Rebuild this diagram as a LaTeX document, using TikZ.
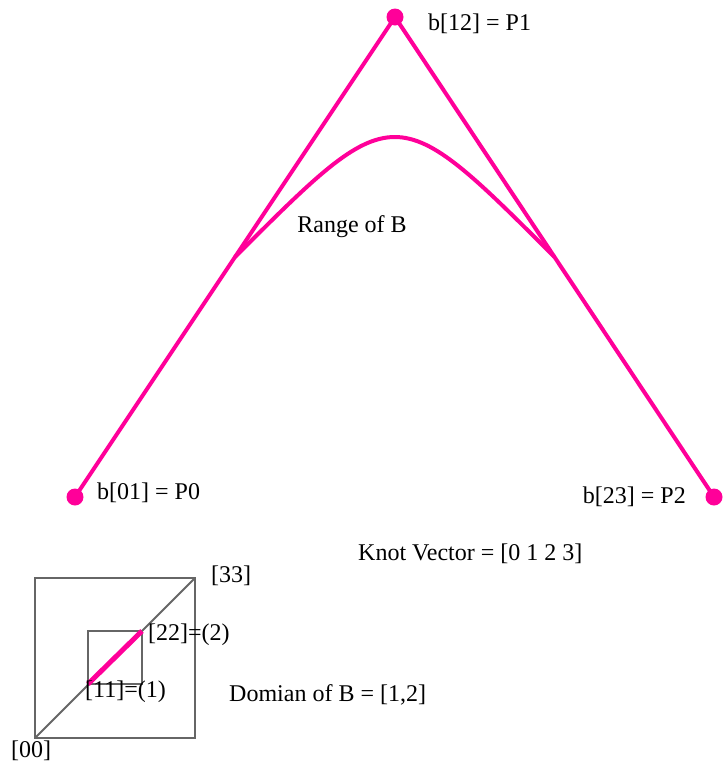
\documentclass[tikz,border=0pt]{standalone}
\usepackage{fontspec}
\setmainfont{Liberation Serif}
\begin{document}
\begin{tikzpicture}[x=1pt,y=-1pt]
\definecolor{pinkc}{HTML}{FF0099}
\definecolor{grayc}{HTML}{666666}
\tikzset{
  pk/.style={draw=pinkc, line width=4pt},
  gr/.style={draw=grayc, line width=2.5pt},
  dot/.style={circle, fill=pinkc, inner sep=0pt, minimum size=17pt},
  lab/.style={font=\fontsize{24}{24}\selectfont, inner sep=0pt}}
\useasboundingbox (0,0) rectangle (726,764);
% control points
\node[dot] (p0) at (75,497) {};
\node[dot] (p1) at (395,17) {};
\node[dot] (p2) at (714,497) {};
\coordinate (m01) at (235,257);
\coordinate (m12) at (554.5,257);
\draw[pk] (p0.center) -- (p1.center) -- (p2.center);
\draw[pk] (m01) .. controls (395,97) and (394.5,97) .. (m12);
% labels
\node[lab, anchor=west] (l1) at (428,24) {b[12] = P1};
\node[lab, anchor=west] (l0) at (97,493) {b[01] = P0};
\node[lab, anchor=east] (l2) at (686,497) {b[23] = P2};
\node[lab] (rng) at (352,227) {Range of B};
\node[lab, anchor=west] (kv) at (358,554) {Knot Vector = [0 1 2 3]};
% domain
\coordinate (a00) at (35,738);
\coordinate (a33) at (195,578);
\coordinate (a11) at (88,684);
\coordinate (a22) at (142,631);
\draw[gr] (a00) rectangle (a33);
\draw[gr] (a11) rectangle (a22);
\draw[gr, line width=2pt] (a00) -- (a33);
\draw[pk, line width=5pt] (a11) -- (a22);
\node[lab, anchor=west] (t33) at (211,576) {[33]};
\node[lab, anchor=west] (t22) at (148,635) {[22]=(2)};
\node[lab, anchor=west] (t11) at (85,692) {[11]=(1)};
\node[lab, anchor=west] (dom) at (229,695) {Domian of B = [1,2]};
\node[lab, anchor=west] (t00) at (11,751) {[00]};
\end{tikzpicture}
\end{document}
